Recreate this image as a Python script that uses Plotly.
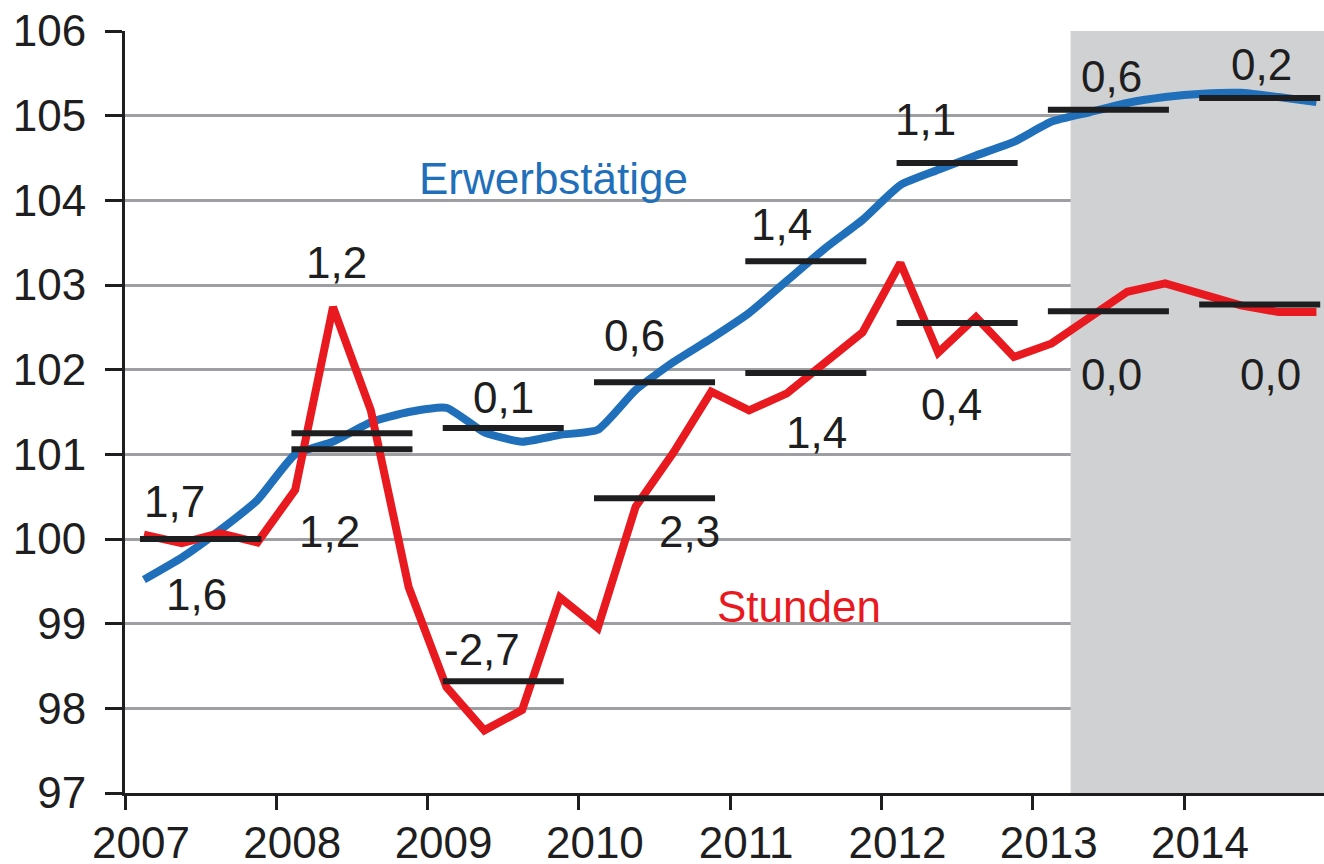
import plotly.graph_objects as go

# ---------------- data ----------------
years = [2007, 2008, 2009, 2010, 2011, 2012, 2013, 2014]
quarters = [1, 2, 3, 4]

# quarterly index values (2007 = 100)
erwerbstaetige = [99.52, 99.78, 100.10, 100.46,
                  101.00, 101.15, 101.38, 101.50,
                  101.55, 101.26, 101.15, 101.23,
                  101.29, 101.76, 102.09, 102.37,
                  102.67, 103.05, 103.43, 103.77,
                  104.18, 104.36, 104.53, 104.69,
                  104.93, 105.04, 105.15, 105.22,
                  105.26, 105.27, 105.22, 105.16]
stunden = [100.05, 99.95, 100.07, 99.96,
           100.58, 102.74, 101.52, 99.43,
           98.25, 97.74, 97.98, 99.31,
           98.95, 100.38, 101.02, 101.74,
           101.52, 101.72, 102.08, 102.44,
           103.26, 102.20, 102.62, 102.15,
           102.31, 102.62, 102.92, 103.02,
           102.90, 102.76, 102.68, 102.68]

# annual averages
erw_avg = [100.00, 101.25, 101.31, 101.85, 103.28, 104.44, 105.07, 105.21]
std_avg = [100.00, 101.06, 98.32, 100.48, 101.96, 102.55, 102.69, 102.77]

# annual growth rates in %
erw_growth = [1.7, 1.2, 0.1, 0.6, 1.4, 1.1, 0.6, 0.2]
std_growth = [1.6, 1.2, -2.7, 2.3, 1.4, 0.4, 0.0, 0.0]

y_ticks = [97, 98, 99, 100, 101, 102, 103, 104, 105, 106]
forecast_start = 2013.25

# ---------------- layout helpers ----------------
# label anchor positions (x in years, y in index units)
erw_label_pos = [(2007.33, 100.44), (2008.40, 103.27), (2009.505, 101.67), (2010.37, 102.40),
                 (2011.34, 103.71), (2012.29, 104.95), (2013.52, 105.46), (2014.515, 105.61)]
std_label_pos = [(2007.47, 99.34), (2008.35, 100.09), (2009.36, 98.69), (2010.73, 100.09),
                 (2011.57, 101.26), (2012.46, 101.59), (2013.52, 101.94), (2014.57, 101.94)]

BLUE = "#1f6fba"
RED = "#e8191f"
DARK = "#1e1e20"
GRID = "#9e9fa3"
SHADE = "#d0d1d3"
FONT = "Liberation Sans, Arial, sans-serif"
FS = 44

qx = [y + (q - 0.5) / 4 for y in years for q in quarters]


def fmt(v):
    return f"{v:.1f}".replace(".", ",")


def bar_xy(avgs):
    xs, ys = [], []
    for yr, a in zip(years, avgs):
        xs += [yr + 0.1, yr + 0.9, None]
        ys += [a, a, None]
    return xs, ys


fig = go.Figure()

fig.add_trace(go.Scatter(x=qx, y=erwerbstaetige, mode="lines",
                         line=dict(color=BLUE, width=8, shape="spline", smoothing=0.5),
                         hoverinfo="skip"))
fig.add_trace(go.Scatter(x=qx, y=stunden, mode="lines",
                         line=dict(color=RED, width=8),
                         hoverinfo="skip"))

for avgs in (erw_avg, std_avg):
    bx, by = bar_xy(avgs)
    fig.add_trace(go.Scatter(x=bx, y=by, mode="lines",
                             line=dict(color=DARK, width=6),
                             hoverinfo="skip"))

annotations = []
for g, (ax, ay) in zip(erw_growth, erw_label_pos):
    annotations.append(dict(x=ax, y=ay, xref="x", yref="y", text=fmt(g), showarrow=False,
                            font=dict(family=FONT, size=FS, color=DARK),
                            xanchor="center", yanchor="middle"))
for g, (ax, ay) in zip(std_growth, std_label_pos):
    annotations.append(dict(x=ax, y=ay, xref="x", yref="y", text=fmt(g), showarrow=False,
                            font=dict(family=FONT, size=FS, color=DARK),
                            xanchor="center", yanchor="middle"))
annotations.append(dict(x=2009.83, y=104.26, xref="x", yref="y", text="Erwerbstätige",
                        showarrow=False, font=dict(family=FONT, size=44, color=BLUE),
                        xanchor="center", yanchor="middle"))
annotations.append(dict(x=2011.455, y=99.20, xref="x", yref="y", text="Stunden",
                        showarrow=False, font=dict(family=FONT, size=44, color=RED),
                        xanchor="center", yanchor="middle"))

fig.add_shape(type="rect", xref="x", yref="y", x0=forecast_start, x1=2014.925,
              y0=97, y1=106, fillcolor=SHADE, line=dict(width=0), layer="between")

fig.update_layout(
    width=1324, height=864,
    margin=dict(l=125, r=0, t=31, b=71, pad=0, autoexpand=False),
    paper_bgcolor="white", plot_bgcolor="white",
    showlegend=False,
    font=dict(family=FONT, size=FS, color=DARK),
    annotations=annotations,
)

fig.update_xaxes(range=[2007, 2014.925], tickmode="array", tickvals=years,
                 ticktext=[str(y) for y in years], automargin=False,
                 ticks="outside", ticklen=14, tickwidth=3, tickcolor=DARK,
                 showline=True, linecolor=DARK, linewidth=3,
                 showgrid=False, zeroline=False,
                 tickfont=dict(family=FONT, size=FS, color=DARK),
                 ticklabelshift=16, ticklabelstandoff=-5, ticklabeloverflow="allow")
fig.update_yaxes(range=[97, 106], tickmode="array", tickvals=y_ticks, automargin=False,
                 ticks="outside", ticklen=17, tickwidth=3, tickcolor=DARK,
                 showline=True, linecolor=DARK, linewidth=3,
                 showgrid=True, gridcolor=GRID, gridwidth=2.5, zeroline=False,
                 tickfont=dict(family=FONT, size=FS, color=DARK),
                 ticklabelstandoff=10, ticklabeloverflow="allow")

fig.write_html("out.html",
               config={"displayModeBar": False},
               post_script="document.body.style.margin='0';document.body.style.overflow='hidden';")
